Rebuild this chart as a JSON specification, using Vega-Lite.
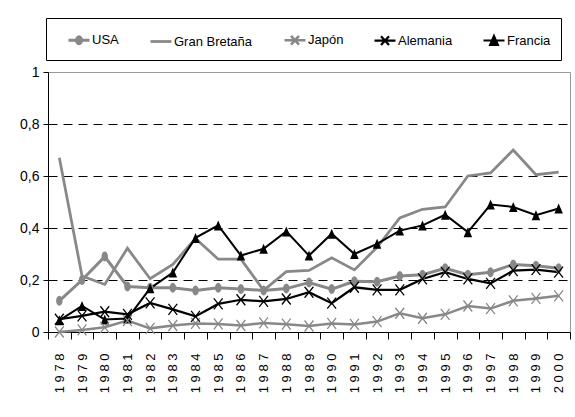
{
  "$schema": "https://vega.github.io/schema/vega-lite/v6.json",
  "width": 522,
  "height": 260,
  "autosize": {"type": "none"},
  "padding": {"left": 48, "top": 72, "right": 5, "bottom": 85},
  "background": "white",
  "config": {
    "view": {"stroke": "#999999", "strokeWidth": 1},
    "font": "Liberation Sans"
  },
  "data": {
    "values": [
      {"year": 1978, "country": "USA", "value": 0.12},
      {"year": 1979, "country": "USA", "value": 0.20},
      {"year": 1980, "country": "USA", "value": 0.29},
      {"year": 1981, "country": "USA", "value": 0.175},
      {"year": 1982, "country": "USA", "value": 0.17},
      {"year": 1983, "country": "USA", "value": 0.17},
      {"year": 1984, "country": "USA", "value": 0.16},
      {"year": 1985, "country": "USA", "value": 0.17},
      {"year": 1986, "country": "USA", "value": 0.165},
      {"year": 1987, "country": "USA", "value": 0.16},
      {"year": 1988, "country": "USA", "value": 0.167},
      {"year": 1989, "country": "USA", "value": 0.19},
      {"year": 1990, "country": "USA", "value": 0.165},
      {"year": 1991, "country": "USA", "value": 0.195},
      {"year": 1992, "country": "USA", "value": 0.193},
      {"year": 1993, "country": "USA", "value": 0.215},
      {"year": 1994, "country": "USA", "value": 0.22},
      {"year": 1995, "country": "USA", "value": 0.245},
      {"year": 1996, "country": "USA", "value": 0.22},
      {"year": 1997, "country": "USA", "value": 0.23},
      {"year": 1998, "country": "USA", "value": 0.26},
      {"year": 1999, "country": "USA", "value": 0.255},
      {"year": 2000, "country": "USA", "value": 0.245},
      {"year": 1978, "country": "Gran Bretaña", "value": 0.67},
      {"year": 1979, "country": "Gran Bretaña", "value": 0.215},
      {"year": 1980, "country": "Gran Bretaña", "value": 0.183},
      {"year": 1981, "country": "Gran Bretaña", "value": 0.322},
      {"year": 1982, "country": "Gran Bretaña", "value": 0.205},
      {"year": 1983, "country": "Gran Bretaña", "value": 0.26},
      {"year": 1984, "country": "Gran Bretaña", "value": 0.36},
      {"year": 1985, "country": "Gran Bretaña", "value": 0.28},
      {"year": 1986, "country": "Gran Bretaña", "value": 0.28},
      {"year": 1987, "country": "Gran Bretaña", "value": 0.16},
      {"year": 1988, "country": "Gran Bretaña", "value": 0.232},
      {"year": 1989, "country": "Gran Bretaña", "value": 0.237},
      {"year": 1990, "country": "Gran Bretaña", "value": 0.285},
      {"year": 1991, "country": "Gran Bretaña", "value": 0.239},
      {"year": 1992, "country": "Gran Bretaña", "value": 0.326},
      {"year": 1993, "country": "Gran Bretaña", "value": 0.439},
      {"year": 1994, "country": "Gran Bretaña", "value": 0.472},
      {"year": 1995, "country": "Gran Bretaña", "value": 0.481},
      {"year": 1996, "country": "Gran Bretaña", "value": 0.60},
      {"year": 1997, "country": "Gran Bretaña", "value": 0.612},
      {"year": 1998, "country": "Gran Bretaña", "value": 0.70},
      {"year": 1999, "country": "Gran Bretaña", "value": 0.605},
      {"year": 2000, "country": "Gran Bretaña", "value": 0.615},
      {"year": 1978, "country": "Japón", "value": 0.0},
      {"year": 1979, "country": "Japón", "value": 0.008},
      {"year": 1980, "country": "Japón", "value": 0.018},
      {"year": 1981, "country": "Japón", "value": 0.044},
      {"year": 1982, "country": "Japón", "value": 0.014},
      {"year": 1983, "country": "Japón", "value": 0.025},
      {"year": 1984, "country": "Japón", "value": 0.033},
      {"year": 1985, "country": "Japón", "value": 0.031},
      {"year": 1986, "country": "Japón", "value": 0.025},
      {"year": 1987, "country": "Japón", "value": 0.035},
      {"year": 1988, "country": "Japón", "value": 0.03},
      {"year": 1989, "country": "Japón", "value": 0.023},
      {"year": 1990, "country": "Japón", "value": 0.033},
      {"year": 1991, "country": "Japón", "value": 0.029},
      {"year": 1992, "country": "Japón", "value": 0.04},
      {"year": 1993, "country": "Japón", "value": 0.072},
      {"year": 1994, "country": "Japón", "value": 0.053},
      {"year": 1995, "country": "Japón", "value": 0.068},
      {"year": 1996, "country": "Japón", "value": 0.10},
      {"year": 1997, "country": "Japón", "value": 0.09},
      {"year": 1998, "country": "Japón", "value": 0.12},
      {"year": 1999, "country": "Japón", "value": 0.129},
      {"year": 2000, "country": "Japón", "value": 0.139},
      {"year": 1978, "country": "Alemania", "value": 0.049},
      {"year": 1979, "country": "Alemania", "value": 0.062},
      {"year": 1980, "country": "Alemania", "value": 0.078},
      {"year": 1981, "country": "Alemania", "value": 0.068},
      {"year": 1982, "country": "Alemania", "value": 0.112},
      {"year": 1983, "country": "Alemania", "value": 0.087},
      {"year": 1984, "country": "Alemania", "value": 0.06},
      {"year": 1985, "country": "Alemania", "value": 0.108},
      {"year": 1986, "country": "Alemania", "value": 0.124},
      {"year": 1987, "country": "Alemania", "value": 0.118},
      {"year": 1988, "country": "Alemania", "value": 0.127},
      {"year": 1989, "country": "Alemania", "value": 0.153},
      {"year": 1990, "country": "Alemania", "value": 0.111},
      {"year": 1991, "country": "Alemania", "value": 0.172},
      {"year": 1992, "country": "Alemania", "value": 0.162},
      {"year": 1993, "country": "Alemania", "value": 0.162},
      {"year": 1994, "country": "Alemania", "value": 0.204},
      {"year": 1995, "country": "Alemania", "value": 0.23},
      {"year": 1996, "country": "Alemania", "value": 0.204},
      {"year": 1997, "country": "Alemania", "value": 0.187},
      {"year": 1998, "country": "Alemania", "value": 0.236},
      {"year": 1999, "country": "Alemania", "value": 0.24},
      {"year": 2000, "country": "Alemania", "value": 0.23},
      {"year": 1978, "country": "Francia", "value": 0.045},
      {"year": 1979, "country": "Francia", "value": 0.10},
      {"year": 1980, "country": "Francia", "value": 0.048},
      {"year": 1981, "country": "Francia", "value": 0.052},
      {"year": 1982, "country": "Francia", "value": 0.168},
      {"year": 1983, "country": "Francia", "value": 0.229},
      {"year": 1984, "country": "Francia", "value": 0.362},
      {"year": 1985, "country": "Francia", "value": 0.41},
      {"year": 1986, "country": "Francia", "value": 0.294},
      {"year": 1987, "country": "Francia", "value": 0.32},
      {"year": 1988, "country": "Francia", "value": 0.387},
      {"year": 1989, "country": "Francia", "value": 0.294},
      {"year": 1990, "country": "Francia", "value": 0.378},
      {"year": 1991, "country": "Francia", "value": 0.30},
      {"year": 1992, "country": "Francia", "value": 0.339},
      {"year": 1993, "country": "Francia", "value": 0.39},
      {"year": 1994, "country": "Francia", "value": 0.41},
      {"year": 1995, "country": "Francia", "value": 0.451},
      {"year": 1996, "country": "Francia", "value": 0.384},
      {"year": 1997, "country": "Francia", "value": 0.49},
      {"year": 1998, "country": "Francia", "value": 0.481},
      {"year": 1999, "country": "Francia", "value": 0.449},
      {"year": 2000, "country": "Francia", "value": 0.475}
    ]
  },
  "encoding": {
    "x": {
      "field": "year",
      "type": "ordinal",
      "scale": {"type": "band", "paddingInner": 0, "paddingOuter": 0},
      "axis": {
        "title": null,
        "labelAngle": 270,
        "labelFont": "Liberation Sans",
        "labelFontSize": 13,
        "labelColor": "black",
        "labelPadding": 14,
        "labelExpr": "join(split(datum.label, ''), ' ')",
        "tickBand": "extent",
        "tickSize": 7,
        "tickColor": "black",
        "domainColor": "black",
        "grid": false
      }
    },
    "y": {
      "field": "value",
      "type": "quantitative",
      "scale": {"domain": [0, 1], "nice": false},
      "axis": {
        "title": null,
        "values": [0, 0.2, 0.4, 0.6, 0.8, 1],
        "labelExpr": "replace(format(datum.value, '~g'), '.', ',')",
        "labelFont": "Liberation Sans",
        "labelFontSize": 14,
        "labelColor": "black",
        "labelPadding": 4,
        "tickSize": 5,
        "tickColor": "black",
        "domainColor": "black",
        "grid": true,
        "gridColor": "black",
        "gridDash": [9, 6],
        "gridOpacity": {"condition": {"test": "datum.value === 1 || datum.value === 0", "value": 0}, "value": 1}
      }
    }
  },
  "layer": [
    {
      "mark": {"type": "line"},
      "encoding": {
        "color": {
          "field": "country",
          "type": "nominal",
          "scale": {
            "domain": ["USA", "Gran Bretaña", "Japón", "Alemania", "Francia"],
            "range": ["#888888", "#888888", "#888888", "#000000", "#000000"]
          },
          "legend": {
            "orient": "none",
            "legendX": -2,
            "legendY": -54,
            "direction": "horizontal",
            "columns": 5,
            "columnPadding": 26,
            "title": " ",
            "titleOrient": "left",
            "titleFontSize": 1,
            "titlePadding": 11,
            "padding": 10,
            "strokeColor": "black",
            "fillColor": "white",
            "labelFont": "Liberation Sans",
            "labelFontSize": 13,
            "labelColor": "black",
            "labelOffset": 1,
            "symbolSize": 441,
            "encode": {
              "symbols": {
                "update": {
                  "shape": {"signal": "datum.value == 'USA' ? 'M-1,0L1,0M0,-0.33A0.24,0.33 0 1,1 0,0.33A0.24,0.33 0 1,1 0,-0.33Z' : datum.value == 'Gran Bretaña' ? 'M-1,0L1,0' : datum.value == 'Francia' ? 'M-1,0L1,0M0,-0.45L0.38,0.42L-0.38,0.42Z' : 'M-1,0L1,0M-0.38,-0.42L0.38,0.42M-0.38,0.42L0.38,-0.42'"},
                  "size": {"value": 441},
                  "fill": {"signal": "datum.value == 'USA' ? '#888888' : datum.value == 'Francia' ? '#000000' : 'transparent'"},
                  "stroke": {"signal": "(datum.value == 'Alemania' || datum.value == 'Francia') ? '#000000' : '#888888'"},
                  "strokeWidth": {"value": 2},
                  "opacity": {"value": 1}
                }
              }
            }
          }
        },
        "strokeWidth": {
          "field": "country",
          "type": "nominal",
          "scale": {
            "domain": ["USA", "Gran Bretaña", "Japón", "Alemania", "Francia"],
            "range": [3, 2, 3, 2.5, 2.5]
          },
          "legend": null
        }
      }
    },
    {
      "transform": [{"filter": "datum.country == 'USA' || datum.country == 'Francia'"}],
      "mark": {"type": "point", "filled": true, "opacity": 1, "size": 100},
      "encoding": {
        "color": {"field": "country", "type": "nominal", "legend": null},
        "shape": {
          "field": "country",
          "type": "nominal",
          "scale": {
            "domain": ["USA", "Francia"],
            "range": ["M0,-1A0.65,1 0 1,1 0,1A0.65,1 0 1,1 0,-1Z", "M0,-1L0.85,1L-0.85,1Z"]
          },
          "legend": null
        }
      }
    },
    {
      "transform": [{"filter": "datum.country == 'Japón' || datum.country == 'Alemania'"}],
      "mark": {"type": "point", "filled": false, "opacity": 1, "size": 121, "strokeWidth": 1.3, "shape": "M-0.8,-1L0.8,1M-0.8,1L0.8,-1"},
      "encoding": {
        "color": {"field": "country", "type": "nominal", "legend": null}
      }
    }
  ]
}
